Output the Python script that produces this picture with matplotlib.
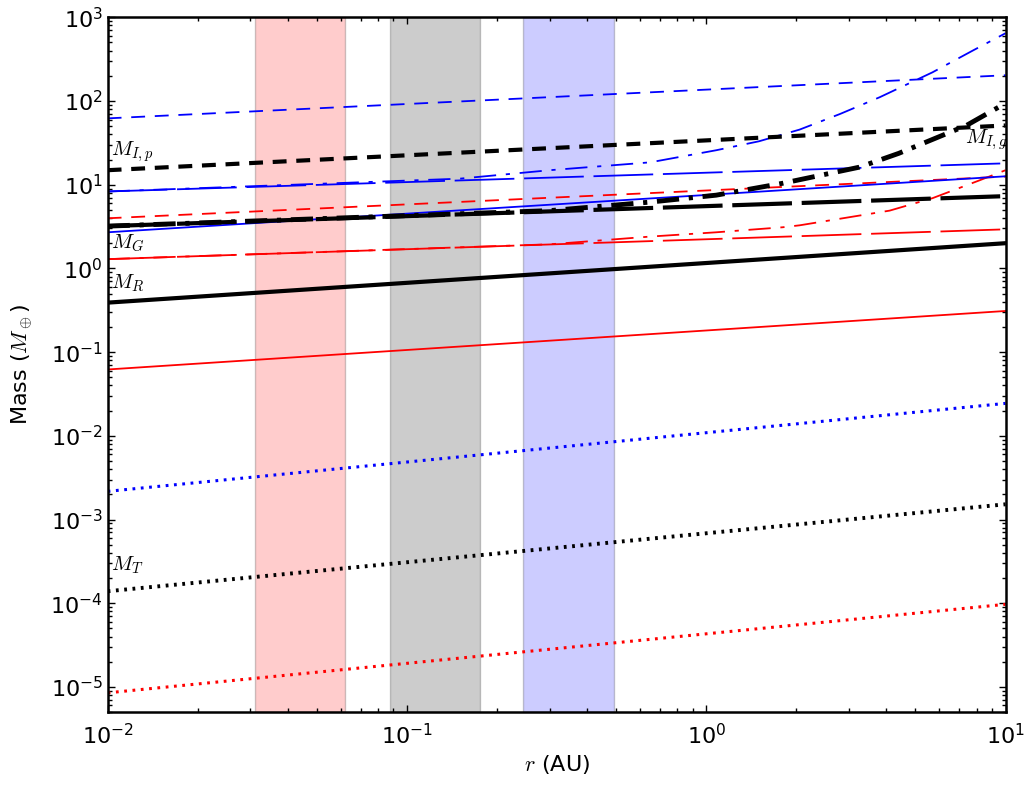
import numpy as np
import matplotlib
matplotlib.use('Agg')
import matplotlib.pyplot as plt

plt.rcParams['mathtext.fontset'] = 'cm'
plt.rcParams['axes.unicode_minus'] = False
plt.rcParams['lines.scale_dashes'] = False

# endpoints of the power-law curves (r in AU, mass in Earth masses)
r_ends = [0.01, 10.0]

# red family
red_dot = [8.5e-6, 9.7e-5]
red_solid = [0.062, 0.31]
red_long = [1.29, 2.93]
red_dash = [3.97, 12.5]
red_dd_r = [0.01, 0.3, 0.65, 1.08, 1.8, 2.05, 4.1, 5.7, 8.2, 10.0]
red_dd_m = [1.29, 1.94, 2.4, 2.7, 3.1, 3.27, 4.9, 6.9, 11.3, 14.9]

# black family
blk_dot = [1.39e-4, 1.52e-3]
blk_solid = [0.39, 2.0]
blk_long = [3.2, 7.3]
blk_dash = [14.9, 51.0]
blk_dd_r = [0.01, 0.3, 0.65, 1.08, 1.8, 3.25, 4.4, 7.4, 10.0]
blk_dd_m = [3.2, 4.9, 6.2, 7.5, 10.4, 16.2, 23.7, 51.0, 94.0]

# blue family
blu_dot = [2.17e-3, 2.44e-2]
blu_solid = [2.7, 12.6]
blu_long = [8.3, 18.0]
blu_dash = [62.0, 203.0]
blu_dd_r = [0.01, 0.15, 0.3, 0.65, 1.08, 1.5, 2.05, 2.8, 3.8, 5.7, 7.8, 10.0]
blu_dd_m = [8.3, 11.8, 14.9, 18.5, 25.8, 33.0, 45.5, 70.0, 111.0, 220.0, 403.0, 645.0]

# shaded radial bands
bands = [(0.031, 0.062, 'r'), (0.0875, 0.176, 'k'), (0.245, 0.49, 'b')]

# curve labels
labels = [(r'$M_{I,p}$', 0.0103, 22.4), (r'$M_G$', 0.0103, 1.74),
          (r'$M_R$', 0.0103, 0.58), (r'$M_T$', 0.0103, 2.47e-4),
          (r'$M_{I,g}$', 7.3, 31.3)]

LONG = (43, 7)
DASH = (10, 7)
DASHDOT = (16, 7, 3, 7)
DOT = (2, 4)

fig = plt.figure(figsize=(10.25, 7.86), dpi=100)
ax = fig.add_axes([0.105, 0.094, 0.876, 0.884])

for lo, hi, c in bands:
    ax.axvspan(lo, hi, facecolor=c, edgecolor='k', alpha=0.2, lw=1)

thin = 1.3
for c, dot, solid, lng, dash, ddr, ddm in [
        ('r', red_dot, red_solid, red_long, red_dash, red_dd_r, red_dd_m),
        ('b', blu_dot, blu_solid, blu_long, blu_dash, blu_dd_r, blu_dd_m)]:
    ax.loglog(r_ends, dot, color=c, lw=2.2, dashes=DOT)
    ax.loglog(r_ends, solid, color=c, lw=thin)
    ax.loglog(r_ends, lng, color=c, lw=thin, dashes=LONG)
    ax.loglog(r_ends, dash, color=c, lw=thin, dashes=DASH)
    ax.loglog(ddr, ddm, color=c, lw=thin, dashes=DASHDOT)

ax.loglog(r_ends, blk_dot, color='k', lw=2.8, dashes=DOT)
ax.loglog(r_ends, blk_solid, color='k', lw=3)
ax.loglog(r_ends, blk_long, color='k', lw=3, dashes=LONG)
ax.loglog(r_ends, blk_dash, color='k', lw=3, dashes=DASH)
ax.loglog(blk_dd_r, blk_dd_m, color='k', lw=3.5, dashes=DASHDOT)

for txt, x, y in labels:
    ax.text(x, y, txt, fontsize=15, va='baseline', ha='left')

ax.set_xlim(1e-2, 1e1)
ax.set_ylim(5e-6, 1e3)
ax.set_xlabel(r'$r$ (AU)', fontsize=16, labelpad=3)
ax.set_ylabel(r'Mass ($M_\oplus$)', fontsize=16, labelpad=11)
ax.tick_params(which='both', direction='in', top=True, right=True, labelsize=16)
ax.tick_params(which='major', length=5, width=1)
ax.tick_params(which='minor', length=3, width=1)
ax.tick_params(axis='x', which='major', pad=8)
for s in ax.spines.values():
    s.set_linewidth(1.8)

fig.savefig('out.png', dpi=100)
